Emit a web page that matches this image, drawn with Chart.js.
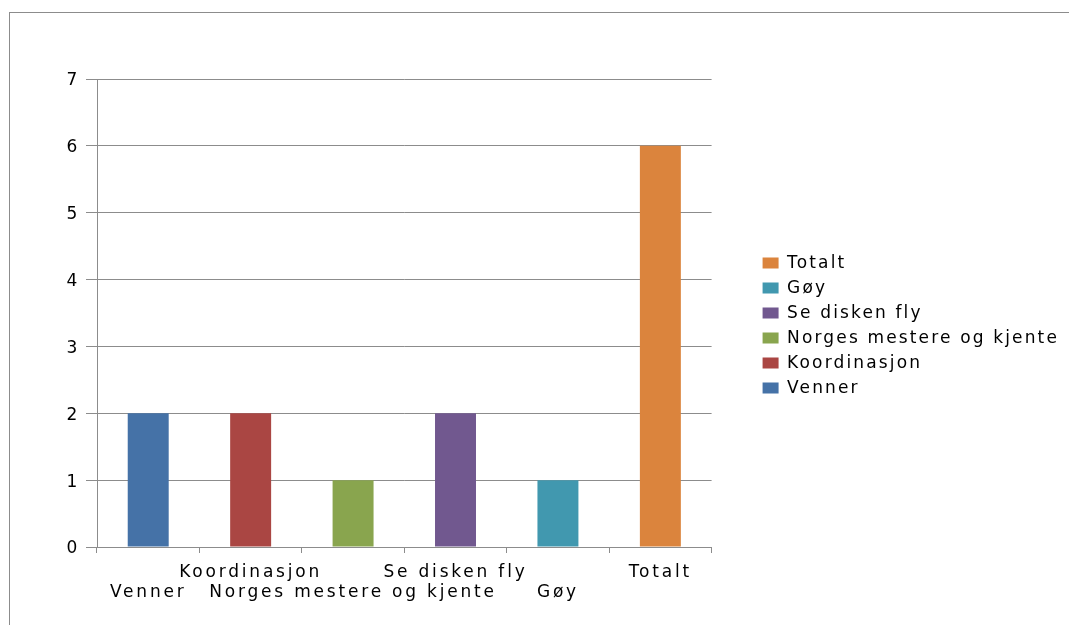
<!DOCTYPE html>
<html>
<head>
<meta charset="utf-8">
<script src="https://cdn.jsdelivr.net/npm/chart.js@4.4.1/dist/chart.umd.min.js"></script>
<style>
    html, body { margin: 0; padding: 0; background: #fff; }
    canvas { display: block; }
</style>
</head>
<body>
<canvas id="canvas" width="1069" height="625"></canvas>
<script>
// svar fra undersøkelsen
const categories = ['Venner', 'Koordinasjon', 'Norges mestere og kjente', 'Se disken fly', 'Gøy', 'Totalt'];
const counts = [2, 2, 1, 2, 1, 6];
const colors = ['#4572A7', '#AA4643', '#89A54E', '#71588F', '#4198AF', '#DB843D'];
const yMax = 7;

const lineColor = '#8c8c8c';

Chart.defaults.font.family = "'DejaVu Sans', sans-serif";
Chart.defaults.font.size = 17;
Chart.defaults.color = '#000';

// kjør fn med en annen tegnavstand
function withSpacing(ctx, spacing, fn) {
    const old = ctx.letterSpacing;
    ctx.letterSpacing = spacing;
    fn();
    ctx.letterSpacing = old;
}

// ramme rundt diagrammet, bredere tegnavstand og plass til hele forklaringen
const frame = {
    id: 'frame',
    beforeUpdate(chart) {
        chart.ctx.letterSpacing = '2.8px';
    },
    beforeLayout(chart) {
        const legend = chart.legend;
        if (legend && !legend._wide) {
            const fit = legend.fit;
            const draw = legend.draw;
            legend.fit = function () {
                this.maxWidth = 420;
                withSpacing(chart.ctx, '2.15px', () => fit.call(this));
            };
            legend.draw = function () {
                withSpacing(chart.ctx, '2.15px', () => draw.call(this));
            };
            legend._wide = true;
        }
    },
    beforeDraw(chart) {
        const ctx = chart.ctx;
        ctx.save();
        ctx.strokeStyle = lineColor;
        ctx.lineWidth = 1;
        ctx.strokeRect(9.5, 12.5, chart.width, chart.height);
        ctx.restore();
    }
};

// en serie per kategori, så hver søyle får sin egen farge og forklaring
const datasets = categories.map(function (name, i) {
    return {
        label: name,
        data: counts.map(function (v, j) { return j === i ? v : null; }),
        backgroundColor: colors[i],
        borderWidth: 0
    };
});

const ctx = document.getElementById('canvas').getContext('2d');
new Chart(ctx, {
    type: 'bar',
    data: { labels: categories, datasets: datasets },
    plugins: [frame],
    options: {
        responsive: false,
        animation: false,
        categoryPercentage: 1,
        barPercentage: 0.4,
        layout: { padding: { top: 79, left: 0, right: 0, bottom: 0 } },
        plugins: {
            tooltip: { enabled: false },
            legend: {
                position: 'right',
                fullSize: false,
                reverse: true,
                title: { display: true, text: ' ', padding: 0, font: { size: 21 } },
                labels: { boxWidth: 16, boxHeight: 11, padding: 8 }
            }
        },
        scales: {
            x: {
                stacked: true,
                grid: { drawOnChartArea: false, color: lineColor, tickLength: 6, offset: true },
                border: { color: lineColor },
                ticks: {
                    autoSkip: false,
                    maxRotation: 0,
                    padding: 9,
                    // annenhver etikett på nederste linje
                    callback: function (value, i) {
                        const name = this.getLabelForValue(value);
                        return i % 2 ? [name, ''] : ['', name];
                    }
                },
                afterFit: function (scale) { scale.height = 78; }
            },
            y: {
                stacked: true,
                min: 0,
                max: yMax,
                ticks: { stepSize: 1, padding: 6, labelOffset: 2 },
                grid: { color: lineColor, tickLength: 11 },
                border: { color: lineColor },
                afterFit: function (scale) { scale.width = 97; }
            },
            gap: {
                type: 'linear',
                position: 'right',
                display: true,
                grid: { display: false },
                border: { display: false },
                ticks: { display: false },
                afterFit: function (scale) { scale.width = 43; }
            }
        }
    }
});
</script>
</body>
</html>
